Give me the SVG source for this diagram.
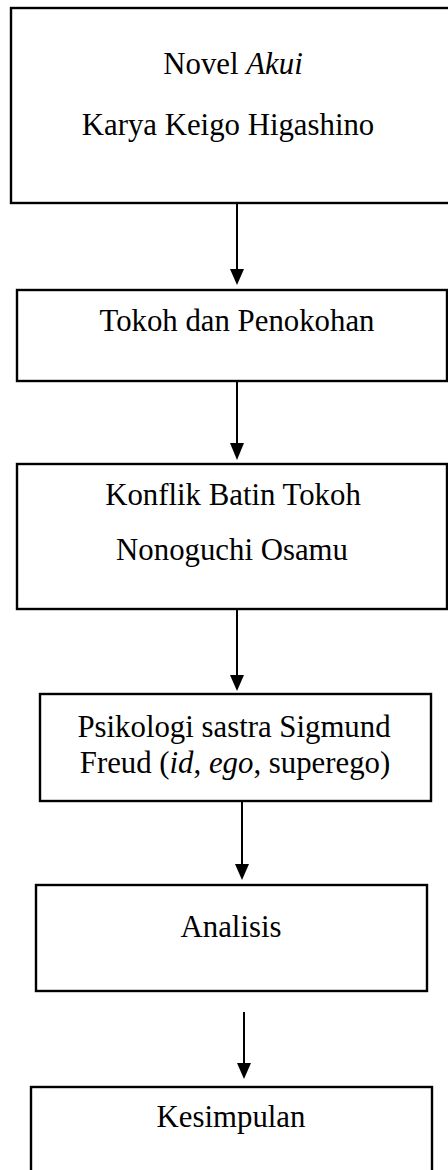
<svg xmlns="http://www.w3.org/2000/svg" width="448" height="1170" viewBox="0 0 448 1170">
<style>
.box{fill:#fff;stroke:#000;stroke-width:2.4}
.t{font-family:"Liberation Serif","Times New Roman",serif;font-size:30.8px;fill:#000;text-anchor:middle}
.c{stroke:#000;stroke-width:2;fill:none}
.ah{fill:#000}
</style>
<rect width="448" height="1170" fill="#fff"/>
<g id="n1"><rect class="box" x="11" y="8" width="460" height="195"/>
<text class="t" x="233" y="74">Novel <tspan font-style="italic">Akui</tspan></text>
<text class="t" x="228" y="135">Karya Keigo Higashino</text></g>
<g id="n2"><rect class="box" x="17" y="290" width="430" height="91"/>
<text class="t" x="237" y="331">Tokoh dan Penokohan</text></g>
<g id="n3"><rect class="box" x="17" y="464" width="430" height="145"/>
<text class="t" x="233" y="505">Konflik Batin Tokoh</text>
<text class="t" x="232" y="560">Nonoguchi Osamu</text></g>
<g id="n4"><rect class="box" x="40" y="694" width="391" height="107"/>
<text class="t" x="234" y="737">Psikologi sastra Sigmund</text>
<text class="t" x="235" y="773">Freud (<tspan font-style="italic">id</tspan>, <tspan font-style="italic">ego</tspan>, superego)</text></g>
<g id="n5"><rect class="box" x="36" y="885" width="391" height="106"/>
<text class="t" x="231" y="937">Analisis</text></g>
<g id="n6"><rect class="box" x="31" y="1087" width="401" height="100"/>
<text class="t" x="231" y="1127">Kesimpulan</text></g>
<g id="connectors">
<line class="c" x1="237" y1="204" x2="237" y2="269"/>
<path class="ah" d="M230,269 L244,269 L237,285 Z"/>
<line class="c" x1="237" y1="382" x2="237" y2="443"/>
<path class="ah" d="M230,443 L244,443 L237,460 Z"/>
<line class="c" x1="237" y1="610" x2="237" y2="675"/>
<path class="ah" d="M230,675 L244,675 L237,691 Z"/>
<line class="c" x1="242" y1="802" x2="242" y2="864"/>
<path class="ah" d="M235,864 L249,864 L242,880 Z"/>
<line class="c" x1="244" y1="1012" x2="244" y2="1063"/>
<path class="ah" d="M237,1063 L251,1063 L244,1079 Z"/>
</g>
</svg>
